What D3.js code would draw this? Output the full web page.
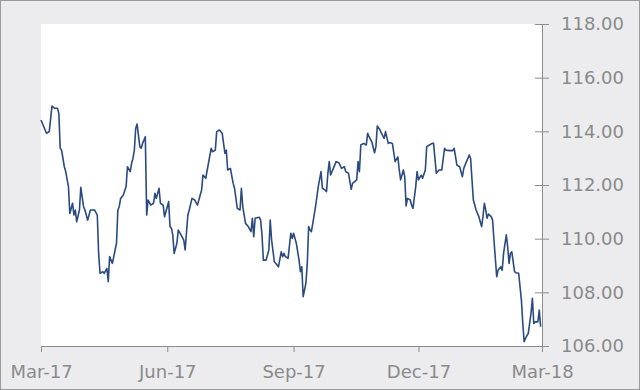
<!DOCTYPE html>
<html>
<head>
<meta charset="utf-8">
<script src="https://cdn.jsdelivr.net/npm/d3@7"></script>
<style>
  body { margin: 0; background: #ececef; }
  svg { display: block; }
</style>
</head>
<body>
<script>
// daily rate (Mar-17 .. Feb-18)
const dates = [
  "2017-03-01","2017-03-05","2017-03-07","2017-03-09","2017-03-11","2017-03-13","2017-03-14","2017-03-15","2017-03-16","2017-03-18",
  "2017-03-19","2017-03-21","2017-03-22","2017-03-24","2017-03-25","2017-03-26","2017-03-27","2017-03-29","2017-03-30","2017-04-01",
  "2017-04-02","2017-04-04","2017-04-06","2017-04-09","2017-04-11","2017-04-12","2017-04-13","2017-04-15","2017-04-16","2017-04-18",
  "2017-04-19","2017-04-20","2017-04-22","2017-04-23","2017-04-25","2017-04-26","2017-04-27","2017-04-28","2017-04-30","2017-05-02",
  "2017-05-03","2017-05-05","2017-05-06","2017-05-07","2017-05-08","2017-05-09","2017-05-10","2017-05-12","2017-05-13","2017-05-14",
  "2017-05-16","2017-05-17","2017-05-18","2017-05-20","2017-05-22","2017-05-23","2017-05-24","2017-05-26","2017-05-27","2017-05-29",
  "2017-05-30","2017-06-01","2017-06-02","2017-06-03","2017-06-04","2017-06-05","2017-06-06","2017-06-08","2017-06-09","2017-06-11",
  "2017-06-13","2017-06-14","2017-06-16","2017-06-17","2017-06-19","2017-06-21","2017-06-23","2017-06-25","2017-06-26","2017-06-27",
  "2017-06-29","2017-07-01","2017-07-03","2017-07-04","2017-07-06","2017-07-07","2017-07-09","2017-07-11","2017-07-13","2017-07-14",
  "2017-07-15","2017-07-17","2017-07-19","2017-07-20","2017-07-22","2017-07-24","2017-07-25","2017-07-26","2017-07-28","2017-07-30",
  "2017-08-01","2017-08-02","2017-08-03","2017-08-04","2017-08-07","2017-08-08","2017-08-09","2017-08-10","2017-08-12","2017-08-14",
  "2017-08-15","2017-08-16","2017-08-18","2017-08-19","2017-08-21","2017-08-23","2017-08-24","2017-08-25","2017-08-26","2017-08-28",
  "2017-08-30","2017-08-31","2017-09-01","2017-09-03","2017-09-05","2017-09-06","2017-09-07","2017-09-08","2017-09-10","2017-09-11",
  "2017-09-12","2017-09-13","2017-09-14","2017-09-16","2017-09-17","2017-09-18","2017-09-19","2017-09-21","2017-09-22","2017-09-24",
  "2017-09-25","2017-09-26","2017-09-27","2017-09-28","2017-09-30","2017-10-02","2017-10-04","2017-10-06","2017-10-08","2017-10-09",
  "2017-10-11","2017-10-13","2017-10-14","2017-10-17","2017-10-18","2017-10-19","2017-10-20","2017-10-22","2017-10-24","2017-10-25",
  "2017-10-26","2017-10-28","2017-10-30","2017-10-31","2017-11-01","2017-11-03","2017-11-04","2017-11-06","2017-11-07","2017-11-09",
  "2017-11-10","2017-11-12","2017-11-14","2017-11-16","2017-11-17","2017-11-18","2017-11-20","2017-11-21","2017-11-22","2017-11-23",
  "2017-11-25","2017-11-26","2017-11-27","2017-11-29","2017-11-30","2017-12-01","2017-12-03","2017-12-04","2017-12-06","2017-12-07",
  "2017-12-09","2017-12-11","2017-12-12","2017-12-13","2017-12-14","2017-12-16","2017-12-18","2017-12-20","2017-12-21","2017-12-24",
  "2017-12-26","2017-12-27","2017-12-29","2017-12-31","2018-01-02","2018-01-03","2018-01-05","2018-01-07","2018-01-08","2018-01-09",
  "2018-01-10","2018-01-12","2018-01-14","2018-01-16","2018-01-17","2018-01-18","2018-01-19","2018-01-20","2018-01-21","2018-01-23",
  "2018-01-24","2018-01-25","2018-01-26","2018-01-27","2018-01-28","2018-01-30","2018-01-31","2018-02-01","2018-02-03","2018-02-04",
  "2018-02-05","2018-02-06","2018-02-07","2018-02-09","2018-02-10","2018-02-12","2018-02-14","2018-02-15","2018-02-16","2018-02-17",
  "2018-02-19","2018-02-21","2018-02-22","2018-02-23","2018-02-24","2018-02-26","2018-02-27","2018-02-28"
];
const rates = [
  114.42,113.93,113.99,114.94,114.86,114.86,114.67,113.37,113.30,112.68,
  112.50,111.94,110.94,111.32,110.88,111.07,110.63,111.07,111.91,111.19,
  111.07,110.69,111.07,111.07,110.88,109.45,108.71,108.77,108.71,108.89,
  108.40,109.33,109.08,109.33,109.83,111.07,111.19,111.50,111.63,111.94,
  112.68,112.50,112.81,112.99,113.30,114.11,114.27,113.43,113.37,113.55,
  113.80,110.88,111.44,111.25,111.32,111.69,111.50,111.88,111.32,111.25,
  110.82,111.19,111.38,110.45,110.39,110.14,109.45,109.83,110.32,110.14,
  109.95,109.58,110.88,111.07,111.50,111.44,111.25,111.63,111.81,112.37,
  112.25,112.81,113.37,113.24,113.30,113.99,114.05,113.93,113.18,113.30,
  112.56,112.62,112.06,111.88,111.13,111.07,111.88,111.19,110.57,110.45,
  110.26,110.76,110.07,110.76,110.80,110.69,110.14,109.20,109.20,109.58,
  110.69,109.95,109.14,109.08,108.95,109.51,109.33,109.45,109.33,109.27,
  110.20,110.01,110.20,109.83,109.20,108.77,108.95,107.84,108.34,109.08,
  110.45,110.32,110.26,110.88,111.19,111.56,111.94,112.50,111.88,111.81,
  111.75,112.44,112.87,112.37,112.62,112.87,112.83,112.62,112.68,112.50,
  112.44,111.84,112.06,112.19,112.87,112.50,113.49,113.55,113.49,113.93,
  113.80,113.61,113.20,113.43,114.20,114.05,113.93,113.74,113.99,113.55,
  113.58,113.55,112.87,113.05,112.56,112.19,112.56,112.31,111.22,111.50,
  111.44,111.25,111.13,111.94,112.50,112.19,112.37,112.25,112.56,113.43,
  113.49,113.55,113.55,112.99,112.44,112.56,112.56,113.37,113.30,113.28,
  113.28,113.37,112.74,112.68,112.31,112.62,112.87,113.12,112.99,112.19,
  111.44,111.07,110.82,110.45,110.82,111.32,111.07,110.76,110.92,110.82,
  110.69,109.95,109.27,108.58,108.83,108.95,108.83,109.45,110.14,109.70,
  109.08,109.45,109.51,108.77,108.73,108.71,107.71,106.84,106.16,106.29,
  106.47,107.22,107.78,106.84,106.90,106.90,107.34,106.72
];
const yTicks = [106, 108, 110, 112, 114, 116, 118];
const xTickDates = ["2017-03-01", "2017-06-01", "2017-09-01", "2017-12-01", "2018-03-01"];

const width = 640, height = 390;
const plotLeft = 41, plotRight = 542, plotTop = 24, plotBottom = 346;

const parse = d3.timeParse("%Y-%m-%d");
const series = dates.map((d, i) => ({ date: parse(d), value: rates[i] }));

const svg = d3.select("body").append("svg")
  .attr("width", width).attr("height", height);

svg.append("rect")
  .attr("x", 0.5).attr("y", 0.5)
  .attr("width", width - 1).attr("height", height - 1)
  .attr("fill", "#ececef").attr("stroke", "#9a9a9a");

svg.append("rect")
  .attr("x", plotLeft).attr("y", plotTop)
  .attr("width", plotRight - plotLeft).attr("height", plotBottom - plotTop)
  .attr("fill", "#fff");

const x = d3.scaleTime()
  .domain([parse("2017-03-01"), parse("2018-03-01")])
  .range([plotLeft, plotRight]);
const y = d3.scaleLinear().domain([106, 118]).range([plotBottom, plotTop]);

// x axis
const xAxis = svg.append("g")
  .attr("transform", `translate(0,${plotBottom})`)
  .call(d3.axisBottom(x)
    .tickValues(xTickDates.map(parse))
    .tickFormat(d3.timeFormat("%b-%y"))
    .tickSizeInner(6).tickSizeOuter(0).tickPadding(13));

// y axis on the right, ticks crossing the line
const yAxis = svg.append("g")
  .attr("transform", `translate(${plotRight},0)`)
  .call(d3.axisRight(y)
    .tickValues(yTicks)
    .tickFormat(d3.format(".2f"))
    .tickSizeInner(7).tickSizeOuter(0).tickPadding(12));
yAxis.selectAll(".tick line").attr("x1", -7);

[xAxis, yAxis].forEach(a => {
  a.selectAll("path, line").attr("stroke", "#8c8c8c").attr("stroke-width", 1);
  a.selectAll("text")
    .attr("fill", "#8a8a8a")
    .style("font-family", "'DejaVu Sans', Verdana, sans-serif")
    .style("font-size", "18px");
});

svg.append("path")
  .datum(series)
  .attr("fill", "none")
  .attr("stroke", "#2a4a80")
  .attr("stroke-width", 1.6)
  .attr("stroke-linejoin", "round")
  .attr("d", d3.line().x(d => x(d.date)).y(d => y(d.value)));
</script>
</body>
</html>
